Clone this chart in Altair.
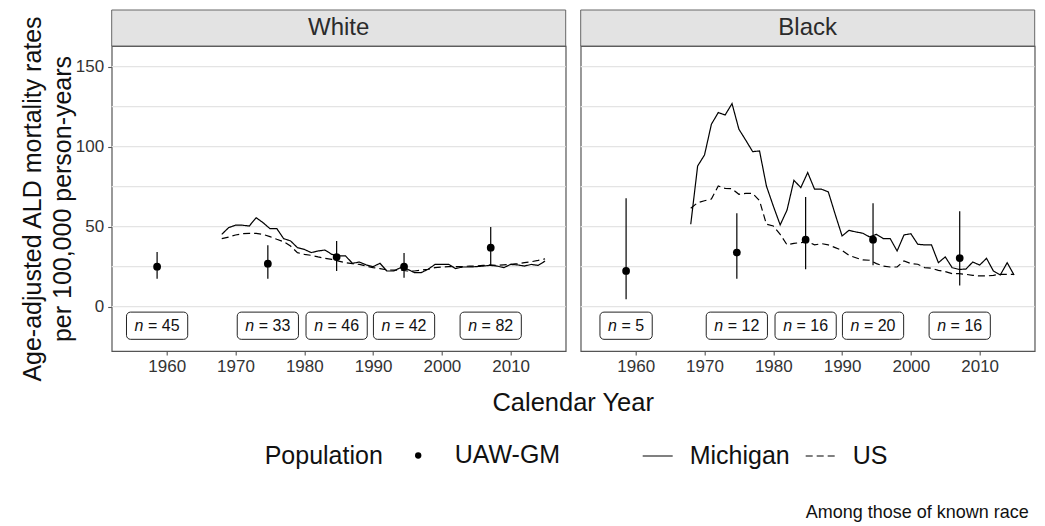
import altair as alt
import pandas as pd

FONT = "Liberation Sans"

years = list(range(1968, 2016))
white_michigan = [45.2, 49.4, 50.9, 50.9, 50.4, 55.6, 52.5, 48.8, 48.8, 42.5,
                  41.1, 36.9, 35.8, 33.8, 34.8, 35.4, 32.7, 31.7, 31.7, 27.1,
                  27.9, 26.1, 25.0, 27.1, 22.3, 22.3, 24.4, 23.4, 21.3, 21.3,
                  23.4, 26.4, 26.4, 26.4, 23.8, 24.8, 24.8, 25.0, 25.4, 25.8,
                  25.4, 24.4, 26.4, 26.1, 25.4, 26.4, 25.8, 28.5]
white_us = [42.5, 43.5, 44.8, 45.6, 45.8, 45.8, 45.2, 43.8, 42.1, 40.6,
            37.9, 33.8, 32.7, 32.1, 31.1, 30.2, 29.6, 28.5, 27.5, 26.9,
            26.4, 25.4, 24.4, 23.8, 23.0, 22.8, 22.8, 22.3, 22.3, 22.8,
            23.4, 24.4, 24.8, 25.0, 25.0, 25.0, 25.4, 25.4, 25.8, 26.1,
            25.8, 26.1, 26.4, 26.9, 27.5, 28.1, 28.9, 29.9]
black_michigan = [51.5, 87.9, 94.8, 114.0, 121.3, 119.8, 126.9, 110.9, 104.0, 96.9,
                  97.3, 75.4, 62.9, 51.1, 60.4, 79.0, 74.4, 83.8, 73.4, 73.4,
                  71.7, 57.7, 44.2, 47.7, 46.7, 45.9, 43.6, 45.2, 42.5, 42.5,
                  34.8, 44.8, 45.6, 39.0, 38.6, 38.6, 27.5, 31.1, 24.4, 23.3,
                  23.5, 27.9, 26.0, 30.2, 22.3, 19.8, 27.5, 19.8]
black_us = [61.5, 65.0, 66.2, 67.3, 75.4, 73.9, 73.7, 70.2, 70.8, 70.8,
            66.2, 51.5, 50.4, 45.2, 38.6, 39.6, 40.0, 40.6, 38.6, 39.4,
            38.6, 36.9, 35.2, 32.1, 30.6, 29.2, 29.0, 26.9, 25.4, 24.8,
            24.8, 28.6, 26.9, 26.5, 24.4, 24.0, 22.7, 21.9, 20.6, 20.6,
            20.2, 19.6, 19.2, 19.2, 19.6, 20.2, 20.2, 20.2]

cohort_year = [1958.6, 1974.7, 1984.7, 1994.5, 2007.1]
white_rate = [25.0, 26.9, 31.0, 25.0, 36.9]
white_lo = [17.5, 17.5, 22.3, 18.1, 25.4]
white_hi = [34.2, 38.4, 41.0, 33.6, 49.8]
white_n = [45, 33, 46, 42, 82]
black_rate = [22.3, 33.8, 41.9, 41.9, 30.4]
black_lo = [4.6, 17.5, 23.4, 25.9, 13.2]
black_hi = [67.7, 58.4, 68.6, 64.6, 59.6]
black_n = [5, 12, 16, 20, 16]

x_ticks = [1960, 1970, 1980, 1990, 2000, 2010]
y_ticks = [0, 50, 100, 150]
grid_values = [0, 25, 50, 75, 100, 125, 150]

W, H = 454, 305
STRIP = 36
xscale = alt.Scale(domain=[1952, 2018], nice=False, zero=False)
yscale = alt.Scale(domain=[-27.7, 162.9], nice=False, zero=False)

shape_scale = alt.Scale(domain=["UAW-GM"], range=["circle"])
dash_scale = alt.Scale(domain=["Michigan", "US"], range=[[1, 0], [7, 4]])

X_AXIS = alt.Axis(values=x_ticks, format="d", title=None, grid=False)
Y_AXIS = alt.Axis(values=y_ticks, grid=False,
                  title=["Age-adjusted ALD mortality rates",
                         "per 100,000 person-years"])


def panel(race, mich, us, rate, lo, hi, ns, left):
    y_axis = Y_AXIS if left else None

    def X(field):
        return alt.X(field, scale=xscale, axis=X_AXIS)

    def Y(field):
        return alt.Y(field, scale=yscale, axis=y_axis)

    lines_df = pd.DataFrame({
        "year": years * 2,
        "rate": mich + us,
        "pop": ["Michigan"] * len(years) + ["US"] * len(years),
    })
    pts_df = pd.DataFrame({"year": cohort_year, "rate": rate, "lo": lo,
                           "hi": hi, "n": ns, "pop": ["UAW-GM"] * len(ns)})
    grid_df = pd.DataFrame({"g": grid_values})

    grid = alt.Chart(grid_df).mark_rule(color="#e4e4e4", strokeWidth=1.1).encode(
        y=Y("g:Q"),
    )

    lines = alt.Chart(lines_df).mark_line(color="black", strokeWidth=1.2).encode(
        x=X("year:Q"), y=Y("rate:Q"),
        strokeDash=alt.StrokeDash(
            "pop:N", scale=dash_scale,
            legend=alt.Legend(title=None, orient="none", legendX=530, legendY=394,
                              direction="horizontal", symbolType="stroke",
                              symbolSize=900, symbolStrokeWidth=1.2,
                              symbolStrokeColor="black", labelFontSize=25,
                              labelFont=FONT, labelColor="#111",
                              labelOffset=16, columnPadding=12)),
    )

    bars = alt.Chart(pts_df).mark_rule(color="black", strokeWidth=1.2).encode(
        x=X("year:Q"), y=Y("lo:Q"), y2="hi:Q"
    )
    pts = alt.Chart(pts_df).mark_point(filled=True, color="black", opacity=1,
                                      size=60).encode(
        x=X("year:Q"), y=Y("rate:Q"),
        shape=alt.Shape("pop:N", scale=shape_scale,
                        legend=alt.Legend(title="Population", orient="none",
                                          legendX=153, legendY=397,
                                          direction="horizontal", titleOrient="left",
                                          titleFontSize=25, titleFont=FONT,
                                          titleFontWeight="normal", titleColor="#111",
                                          titlePadding=22,
                                          labelFontSize=25, labelFont=FONT,
                                          labelColor="#111", labelOffset=24,
                                          symbolSize=40, symbolFillColor="black",
                                          symbolStrokeWidth=0)),
    )

    lab_base = alt.Chart(pts_df).transform_calculate(
        half="datum.n >= 10 ? 4.45 : 3.8",
    ).transform_calculate(
        bx1="datum.year - datum.half",
        bx2="datum.year + datum.half",
        by1="-20.4",
        by2="-3.4",
        ly="-11.9",
        rest="'= ' + datum.n",
    )
    boxes = lab_base.mark_rect(fill="white", stroke="#222", strokeWidth=1,
                               cornerRadius=4).encode(
        x=X("bx1:Q"), x2="bx2:Q", y=Y("by1:Q"), y2="by2:Q",
    )
    texts = []
    for cond, off in [("datum.n >= 10", -13.6), ("datum.n < 10", -9.1)]:
        sub = lab_base.transform_filter(cond)
        texts.append(sub.mark_text(text="n", fontStyle="italic", align="right",
                                   baseline="middle", dx=off, fontSize=16,
                                   font=FONT, color="#111").encode(
            x=X("year:Q"), y=Y("ly:Q")))
        texts.append(sub.mark_text(align="left", baseline="middle", dx=off + 4.5,
                                   fontSize=16, font=FONT, color="#111").encode(
            x=X("year:Q"), y=Y("ly:Q"), text="rest:N"))

    strip_df = pd.DataFrame({"race": [race]})
    strip_rect = alt.Chart(strip_df).mark_rect(fill="#e3e3e3", stroke="#666",
                                               strokeWidth=1).encode(
        x=alt.value(0), x2=alt.value(W), y=alt.value(-STRIP), y2=alt.value(0))
    strip_text = alt.Chart(strip_df).mark_text(fontSize=24, font=FONT,
                                               color="#2b2b2b",
                                               baseline="middle").encode(
        x=alt.value(W / 2), y=alt.value(-STRIP / 2), text="race:N")

    layers = [grid, lines, bars, pts, boxes] + texts + [strip_rect, strip_text]

    if left:
        xtitle = alt.Chart(pd.DataFrame({"t": ["Calendar Year"]})).mark_text(
            fontSize=25.5, font=FONT, color="#111", baseline="middle").encode(
            x=alt.value(W + 7.5), y=alt.value(H + 52), text="t:N")
        layers.append(xtitle)
    else:
        cap = alt.Chart(pd.DataFrame({"t": ["Among those of known race"]})).mark_text(
            fontSize=18, font=FONT, color="#111", align="right",
            baseline="middle").encode(
            x=alt.value(W - 6), y=alt.value(H + 162), text="t:N")
        layers.append(cap)

    return alt.layer(*layers).properties(width=W, height=H)


left = panel("White", white_michigan, white_us, white_rate, white_lo, white_hi,
             white_n, True)
right = panel("Black", black_michigan, black_us, black_rate, black_lo, black_hi,
              black_n, False)

chart = alt.hconcat(left, right, spacing=15, bounds="flush").properties(
    padding={"left": 11.7, "top": 0, "right": 0, "bottom": 5}
).configure_view(
    stroke="#555", strokeWidth=1.2
).configure_axis(
    domain=False, tickColor="#555", tickSize=4, tickWidth=1.1,
    labelFont=FONT, labelFontSize=17, labelColor="#333", labelPadding=4,
    titleFont=FONT, titleFontSize=25, titleColor="#111",
    titleFontWeight="normal", titleLineHeight=30, titlePadding=0,
)

chart.save("out.html", embed_options={"renderer": "svg", "actions": False})
